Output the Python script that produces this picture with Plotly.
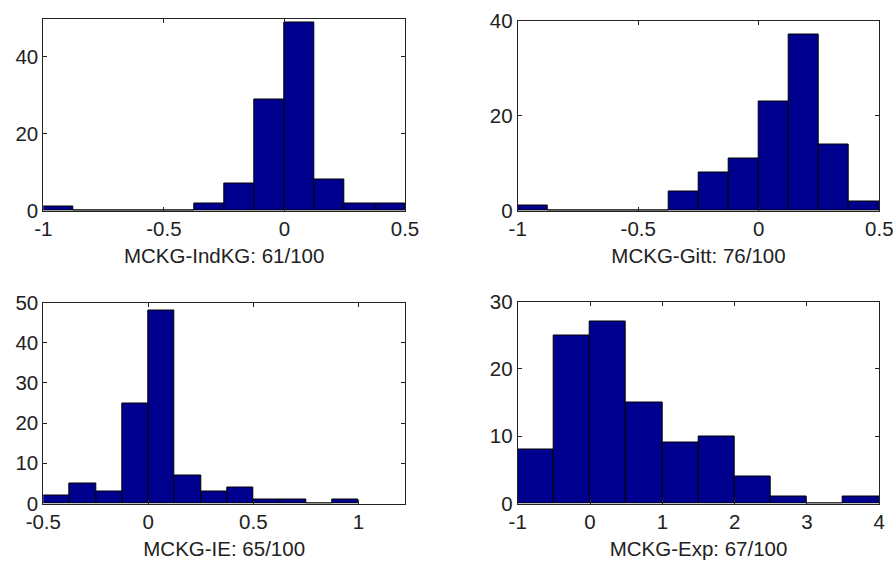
import plotly.graph_objects as go

# ---- data ----
edges_indkg = [-1.0, -0.875, -0.75, -0.625, -0.5, -0.375, -0.25, -0.125, 0.0, 0.125, 0.25, 0.375, 0.5]
counts_indkg = [1, 0, 0, 0, 0, 2, 7, 29, 49, 8, 2, 2]

edges_gitt = [-1.0, -0.875, -0.75, -0.625, -0.5, -0.375, -0.25, -0.125, 0.0, 0.125, 0.25, 0.375, 0.5]
counts_gitt = [1, 0, 0, 0, 0, 4, 8, 11, 23, 37, 14, 2]

edges_ie = [-0.5, -0.375, -0.25, -0.125, 0.0, 0.125, 0.25, 0.375, 0.5, 0.625, 0.75, 0.875, 1.0]
counts_ie = [2, 5, 3, 25, 48, 7, 3, 4, 1, 1, 0, 1]

edges_exp = [-1.0, -0.5, 0.0, 0.5, 1.0, 1.5, 2.0, 2.5, 3.0, 3.5, 4.0]
counts_exp = [8, 25, 27, 15, 9, 10, 4, 1, 0, 1]

titles = ["MCKG-IndKG: 61/100", "MCKG-Gitt: 76/100", "MCKG-IE: 65/100", "MCKG-Exp: 67/100"]

xticks_indkg = [-1, -0.5, 0, 0.5]
xticktext_indkg = ["-1", "-0.5", "0", "0.5"]
xticks_gitt = [-1, -0.5, 0, 0.5]
xticktext_gitt = ["-1", "-0.5", "0", "0.5"]
xticks_ie = [-0.5, 0, 0.5, 1]
xticktext_ie = ["-0.5", "0", "0.5", "1"]
xticks_exp = [-1, 0, 1, 2, 3, 4]
xticktext_exp = ["-1", "0", "1", "2", "3", "4"]

yticks_indkg = [0, 20, 40]
yticks_gitt = [0, 20, 40]
yticks_ie = [0, 10, 20, 30, 40, 50]
yticks_exp = [0, 10, 20, 30]

xranges = [[-1, 0.5], [-1, 0.5], [-0.5, 1.222], [-1, 4]]
yranges = [[0, 50], [0, 40], [0, 50], [0, 30]]

# ---- layout geometry (pixels) ----
W, H = 893, 563
boxes = [  # left, right, top, bottom in px
    (43.3, 405.0, 18.5, 210.7),
    (517.7, 879.3, 20.5, 210.7),
    (43.3, 405.0, 302.5, 503.5),
    (517.7, 879.3, 301.5, 503.5),
]

panels = [
    (edges_indkg, counts_indkg, xticks_indkg, xticktext_indkg, yticks_indkg),
    (edges_gitt, counts_gitt, xticks_gitt, xticktext_gitt, yticks_gitt),
    (edges_ie, counts_ie, xticks_ie, xticktext_ie, yticks_ie),
    (edges_exp, counts_exp, xticks_exp, xticktext_exp, yticks_exp),
]

FONT = "Liberation Sans, Arial, sans-serif"
FS = 20.5
TXT = "#222222"
fig = go.Figure()
layout = dict(
    width=W, height=H,
    margin=dict(l=0, r=0, t=0, b=0, autoexpand=False),
    paper_bgcolor="white", plot_bgcolor="white",
    showlegend=False,
    font=dict(family=FONT, size=FS, color=TXT),
    bargap=0,
)

for i, (edges, counts, xt, xtt, yt) in enumerate(panels):
    n = i + 1
    xa = "x" if n == 1 else f"x{n}"
    ya = "y" if n == 1 else f"y{n}"
    centers = [(edges[k] + edges[k + 1]) / 2 for k in range(len(counts))]
    widths = [edges[k + 1] - edges[k] for k in range(len(counts))]
    fig.add_trace(go.Bar(
        x=centers, y=counts, width=widths,
        marker=dict(color="#00008F", line=dict(color="#000000", width=1)),
        xaxis=xa, yaxis=ya, hoverinfo="x+y",
    ))
    l, r, t, b = boxes[i]
    axis_common = dict(
        showline=True, linecolor=TXT, linewidth=1, mirror="ticks",
        ticks="inside", ticklen=4, tickcolor=TXT, tickwidth=1,
        showgrid=False, zeroline=False, automargin=False,
        ticklabeloverflow="allow",
        tickfont=dict(family=FONT, size=FS, color=TXT),
    )
    layout[f"xaxis{'' if n == 1 else n}"] = dict(
        axis_common,
        domain=[l / W, r / W], anchor=ya, range=xranges[i],
        tickvals=xt, ticktext=xtt, ticklabelstandoff=0,
        title=dict(text=titles[i], standoff=9,
                   font=dict(family=FONT, size=FS, color=TXT)),
    )
    layout[f"yaxis{'' if n == 1 else n}"] = dict(
        axis_common,
        domain=[(H - b) / H, (H - t) / H], anchor=xa, range=yranges[i],
        tickvals=yt, ticklabelstandoff=0,
    )

fig.update_layout(**layout)
fig.write_html(
    "out.html",
    config={"displayModeBar": False},
    post_script="document.body.style.margin='0';document.body.style.overflow='hidden';",
)
